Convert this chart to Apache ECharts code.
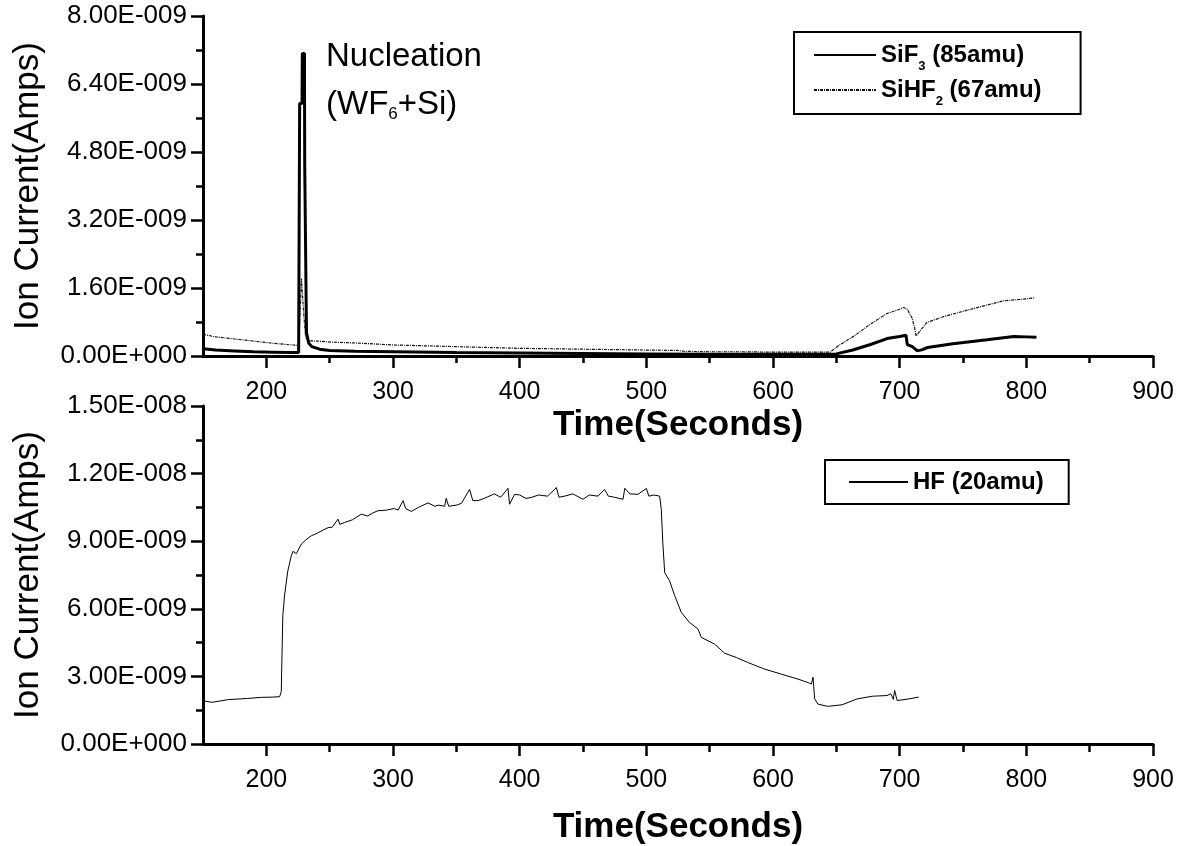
<!DOCTYPE html>
<html>
<head>
<meta charset="utf-8">
<script src="https://cdn.jsdelivr.net/npm/echarts@6/dist/echarts.min.js"></script>
<style>
html, body { margin: 0; padding: 0; background: #fff; }
#chart { width: 1183px; height: 846px; }
</style>
</head>
<body>
<div id="chart"></div>
<script>
// top panel: SiF3 and SiHF2 ion currents
const sif3Time = [150, 160, 175, 190, 205, 220, 225.5, 226.3, 228.2, 228.4, 230.1, 230.3, 231.4, 231.7, 233.5, 236, 242, 250, 270, 300, 350, 400, 450, 500, 550, 600, 640, 650, 663, 677, 690, 700, 705, 706, 710, 714, 718, 722, 742, 769, 790, 800, 808];
const sif3Amps = [0.17e-9, 0.14e-9, 0.12e-9, 0.10e-9, 0.09e-9, 0.08e-9, 0.08e-9, 5.94e-9, 5.94e-9, 7.12e-9, 7.12e-9, 4.5e-9, 4.5e-9, 0.55e-9, 0.3e-9, 0.22e-9, 0.16e-9, 0.13e-9, 0.11e-9, 0.10e-9, 0.08e-9, 0.07e-9, 0.06e-9, 0.05e-9, 0.04e-9, 0.04e-9, 0.04e-9, 0.05e-9, 0.14e-9, 0.27e-9, 0.41e-9, 0.46e-9, 0.49e-9, 0.27e-9, 0.22e-9, 0.12e-9, 0.15e-9, 0.2e-9, 0.29e-9, 0.38e-9, 0.46e-9, 0.45e-9, 0.44e-9];

const sihf2Time = [150, 160, 175, 190, 205, 220, 225.5, 226.5, 227.7, 229.5, 231, 233, 240, 250, 275, 300, 325, 350, 375, 400, 425, 450, 475, 500, 525, 530, 550, 575, 600, 625, 645, 652, 664, 677, 690, 700, 703, 706, 709.7, 711.6, 713, 716, 721.6, 735, 756, 782, 795, 807];
const sihf2Amps = [0.51e-9, 0.45e-9, 0.40e-9, 0.35e-9, 0.30e-9, 0.26e-9, 0.25e-9, 0.9e-9, 1.82e-9, 1.0e-9, 0.45e-9, 0.36e-9, 0.35e-9, 0.33e-9, 0.30e-9, 0.26e-9, 0.24e-9, 0.22e-9, 0.20e-9, 0.18e-9, 0.17e-9, 0.16e-9, 0.15e-9, 0.14e-9, 0.13e-9, 0.11e-9, 0.10e-9, 0.10e-9, 0.09e-9, 0.09e-9, 0.09e-9, 0.25e-9, 0.47e-9, 0.75e-9, 1.0e-9, 1.1e-9, 1.14e-9, 1.1e-9, 0.9e-9, 0.69e-9, 0.47e-9, 0.59e-9, 0.79e-9, 0.93e-9, 1.1e-9, 1.3e-9, 1.33e-9, 1.37e-9];

// bottom panel: HF ion current
const hfTime = [150, 157, 170, 185, 196, 205, 210.5, 211.8, 213, 214.5, 217, 219.7, 221, 223.7, 227.6, 231, 235.5, 240, 245, 248.7, 252, 256.6, 258, 261.8, 268, 275, 280, 284, 288, 295, 301, 304, 308, 310, 314.5, 320, 327.6, 333, 336, 340.8, 342, 344, 350, 354, 360.5, 363, 367, 372, 380, 385, 390.8, 392, 396, 400, 405, 409, 415, 422, 429, 431, 435.5, 442, 450, 455, 461.8, 467, 470, 475, 481.6, 483, 487, 493.4, 500, 502, 506, 510.5, 511.8, 513, 514.5, 518.4, 522.4, 527.6, 534, 540.8, 543.4, 554, 561.8, 571, 580, 593, 606.6, 619.7, 628, 630.3, 631.6, 632.9, 635.5, 643, 654.5, 666.4, 678.3, 690, 693, 695, 696, 698, 705, 715];
const hfAmps = [1.92e-9, 1.85e-9, 1.97e-9, 2.02e-9, 2.07e-9, 2.08e-9, 2.1e-9, 2.32e-9, 5.69e-9, 6.65e-9, 7.69e-9, 8.35e-9, 8.55e-9, 8.45e-9, 8.87e-9, 9.05e-9, 9.24e-9, 9.35e-9, 9.5e-9, 9.6e-9, 9.62e-9, 9.98e-9, 9.75e-9, 9.83e-9, 9.95e-9, 10.2e-9, 10.12e-9, 10.25e-9, 10.35e-9, 10.38e-9, 10.45e-9, 10.38e-9, 10.8e-9, 10.45e-9, 10.32e-9, 10.5e-9, 10.7e-9, 10.55e-9, 10.6e-9, 10.55e-9, 10.9e-9, 10.55e-9, 10.6e-9, 10.68e-9, 11.3e-9, 10.8e-9, 10.8e-9, 10.9e-9, 11.1e-9, 10.95e-9, 11.35e-9, 10.64e-9, 11.08e-9, 11.05e-9, 10.9e-9, 10.94e-9, 11.05e-9, 11.0e-9, 11.38e-9, 10.95e-9, 11.0e-9, 11.1e-9, 10.86e-9, 11.05e-9, 11.0e-9, 11.3e-9, 11.0e-9, 10.95e-9, 10.86e-9, 11.35e-9, 11.1e-9, 11.08e-9, 11.34e-9, 11.0e-9, 11.05e-9, 11.0e-9, 10.42e-9, 8.94e-9, 7.6e-9, 7.24e-9, 6.58e-9, 5.84e-9, 5.4e-9, 5.1e-9, 4.73e-9, 4.43e-9, 4.03e-9, 3.84e-9, 3.62e-9, 3.33e-9, 3.1e-9, 2.88e-9, 2.72e-9, 2.66e-9, 2.96e-9, 2.0e-9, 1.77e-9, 1.67e-9, 1.74e-9, 2.0e-9, 2.12e-9, 2.15e-9, 2.23e-9, 1.98e-9, 2.38e-9, 1.93e-9, 1.98e-9, 2.08e-9];

const timeLabels = [200, 300, 400, 500, 600, 700, 800, 900];
const timeMinor = [250, 350, 450, 550, 650, 750, 850];

const FONT = '"Liberation Sans", Arial, sans-serif';

function sci(v) {
    if (v === 0) return '0.00E+000';
    const parts = v.toExponential(2).split('e');
    const n = parseInt(parts[1], 10);
    return parts[0] + 'E' + (n < 0 ? '-' : '+') + String(Math.abs(n)).padStart(3, '0');
}

function pairs(xs, ys) {
    return xs.map((x, i) => [x, ys[i]]);
}

const axisBlack = { color: '#000', width: 3 };

function timeAxis(gridIndex, gap) {
    return {
        type: 'value',
        gridIndex: gridIndex,
        min: 150,
        max: 900,
        name: 'Time(Seconds)',
        nameLocation: 'middle',
        nameGap: gap,
        nameTextStyle: { fontSize: 35, fontWeight: 'bold', color: '#000', fontFamily: FONT },
        axisLine: { show: true, onZero: false, lineStyle: axisBlack },
        axisTick: { show: true, length: 12, customValues: timeLabels, lineStyle: { color: '#000', width: 2.5 } },
        axisLabel: { customValues: timeLabels, fontSize: 25, color: '#000', margin: 24, fontFamily: FONT },
        splitLine: { show: false }
    };
}

// overlay axis carrying only the short ticks at the half-hundreds
function minorTimeAxis(gridIndex) {
    return {
        type: 'value',
        gridIndex: gridIndex,
        min: 150,
        max: 900,
        axisLine: { show: false },
        axisTick: { show: true, length: 7, customValues: timeMinor, lineStyle: { color: '#000', width: 2.5 } },
        axisLabel: { show: false },
        splitLine: { show: false }
    };
}

function currentAxis(gridIndex, max, step) {
    return {
        type: 'value',
        gridIndex: gridIndex,
        min: 0,
        max: max,
        interval: step,
        name: 'Ion Current(Amps)',
        nameLocation: 'middle',
        nameGap: 157,
        nameTextStyle: { fontSize: 35, color: '#000', fontFamily: FONT },
        axisLine: { show: true, lineStyle: axisBlack },
        axisTick: { show: true, length: 12, lineStyle: { color: '#000', width: 2.5 } },
        minorTick: { show: true, splitNumber: 2, length: 7, lineStyle: { color: '#000', width: 2.5 } },
        axisLabel: { fontSize: 26, color: '#000', margin: 16, fontFamily: FONT, formatter: sci },
        splitLine: { show: false },
        minorSplitLine: { show: false }
    };
}

function hiddenAxis(gridIndex) {
    return { type: 'value', gridIndex: gridIndex, min: 0, max: 1, show: false };
}

const legendRich = {
    b: { fontSize: 24, fontWeight: 'bold', color: '#000', fontFamily: FONT, lineHeight: 33 },
    s: { fontSize: 13, fontWeight: 'bold', color: '#000', fontFamily: FONT, lineHeight: 11, padding: [22, 0, 0, 0] }
};

const legendText = {
    'SiF3 (85amu)': '{b|SiF}{s|3}{b| (85amu)}',
    'SiHF2 (67amu)': '{b|SiHF}{s|2}{b| (67amu)}',
    'HF (20amu)': '{b|HF (20amu)}'
};

const chart = echarts.init(document.getElementById('chart'), null, { renderer: 'canvas' });

const option = {
    animation: false,
    backgroundColor: '#fff',
    grid: [
        { left: 203, top: 16, width: 950, height: 340 },
        { left: 203, top: 406, width: 950, height: 339 },
        { left: 203, top: 16, width: 950, height: 340 },
        { left: 203, top: 406, width: 950, height: 339 }
    ],
    xAxis: [timeAxis(0, 52), timeAxis(1, 66), minorTimeAxis(2), minorTimeAxis(3)],
    yAxis: [currentAxis(0, 8e-9, 1.6e-9), currentAxis(1, 1.5e-8, 3e-9), hiddenAxis(2), hiddenAxis(3)],
    legend: [
        {
            data: ['SiF3 (85amu)', 'SiHF2 (67amu)'],
            orient: 'vertical',
            left: 794,
            top: 32,
            padding: [5.5, 39, 6.5, 19],
            itemGap: 0,
            itemWidth: 62,
            itemHeight: 14,
            borderColor: '#000',
            borderWidth: 2,
            selectedMode: false,
            itemStyle: { opacity: 0 },
            formatter: name => legendText[name],
            textStyle: { rich: legendRich }
        },
        {
            data: ['HF (20amu)'],
            orient: 'vertical',
            left: 825,
            top: 460,
            padding: [10, 25, 10, 23],
            itemGap: 0,
            itemWidth: 59,
            itemHeight: 14,
            borderColor: '#000',
            borderWidth: 2,
            selectedMode: false,
            itemStyle: { opacity: 0 },
            formatter: name => legendText[name],
            textStyle: { rich: legendRich }
        }
    ],
    graphic: [
        {
            type: 'text',
            left: 326,
            top: 40,
            style: {
                text: '{a|Nucleation}\n{a|(WF}{s|6}{a|+Si)}',
                fill: '#000',
                rich: {
                    a: { fontSize: 33, lineHeight: 48, fontFamily: FONT, fill: '#000' },
                    s: { fontSize: 17, lineHeight: 16, padding: [20, 0, 0, 0], fontFamily: FONT, fill: '#000' }
                }
            }
        }
    ],
    series: [
        {
            name: 'SiHF2 (67amu)',
            type: 'line',
            xAxisIndex: 0,
            yAxisIndex: 0,
            symbol: 'none',
            showSymbol: false,
            lineStyle: { color: '#111', width: 1.2, type: [3, 1, 1, 1] },
            itemStyle: { color: '#111' },
            data: pairs(sihf2Time, sihf2Amps)
        },
        {
            name: 'SiF3 (85amu)',
            type: 'line',
            xAxisIndex: 0,
            yAxisIndex: 0,
            symbol: 'none',
            showSymbol: false,
            lineStyle: { color: '#000', width: 3 },
            itemStyle: { color: '#000' },
            data: pairs(sif3Time, sif3Amps)
        },
        {
            name: 'HF (20amu)',
            type: 'line',
            xAxisIndex: 1,
            yAxisIndex: 1,
            symbol: 'none',
            showSymbol: false,
            lineStyle: { color: '#000', width: 1 },
            itemStyle: { color: '#000' },
            data: pairs(hfTime, hfAmps)
        }
    ]
};

chart.setOption(option);
</script>
</body>
</html>
